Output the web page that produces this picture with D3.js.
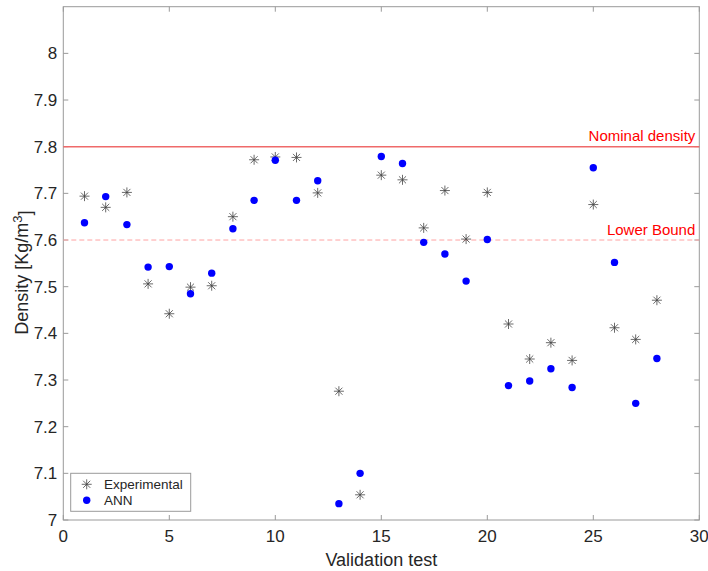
<!DOCTYPE html>
<meta charset="utf-8">
<script src="https://d3js.org/d3.v7.min.js"></script>
<style>
  body { margin: 0; background: #fff; }
  text { font-family: 'Liberation Sans', Arial, sans-serif; fill: #262626; }
</style>
<div id="chart"></div>
<script>
// data
const tests = d3.range(1, 29);
const experimental = [7.694, 7.670, 7.702, 7.506, 7.442, 7.499, 7.502, 7.650, 7.772, 7.778,
                      7.777, 7.701, 7.276, 7.054, 7.739, 7.729, 7.626, 7.706, 7.602, 7.702,
                      7.420, 7.345, 7.380, 7.342, 7.676, 7.412, 7.387, 7.471];
const ann = [7.637, 7.693, 7.633, 7.542, 7.543, 7.485, 7.529, 7.624, 7.685, 7.771,
             7.685, 7.727, 7.035, 7.100, 7.779, 7.764, 7.595, 7.570, 7.512, 7.601,
             7.288, 7.298, 7.324, 7.284, 7.755, 7.552, 7.250, 7.346];
const xTicks = [0, 5, 10, 15, 20, 25, 30];
const yTicks = [7, 7.1, 7.2, 7.3, 7.4, 7.5, 7.6, 7.7, 7.8, 7.9, 8];
const refLines = [
  {value: 7.8, label: "Nominal density", dashed: false},
  {value: 7.6, label: "Lower Bound", dashed: true}
];
const seriesNames = ["Experimental", "ANN"];

const W = 708, H = 571;
const margin = {top: 6.7, right: 8.7, bottom: 51, left: 63.3};
const width = W - margin.left - margin.right,
      height = H - margin.top - margin.bottom;

const svg = d3.select("#chart").append("svg")
    .attr("width", W).attr("height", H)
  .append("g")
    .attr("transform", "translate(" + margin.left + "," + margin.top + ")");

const x = d3.scaleLinear().domain([0, 30]).range([0, width]);
const y = d3.scaleLinear().domain([7, 8.1]).range([height, 0]);

const axisColor = "#9a9a9a";

// box
svg.append("rect")
  .attr("width", width).attr("height", height)
  .attr("fill", "none").attr("stroke", axisColor).attr("stroke-width", 1);

// ticks (inside, all four sides)
const tl = 5;
const gx = svg.append("g");
xTicks.forEach(t => {
  gx.append("line").attr("x1", x(t)).attr("x2", x(t)).attr("y1", height).attr("y2", height - tl)
    .attr("stroke", axisColor);
  gx.append("line").attr("x1", x(t)).attr("x2", x(t)).attr("y1", 0).attr("y2", tl)
    .attr("stroke", axisColor);
  gx.append("text").attr("x", x(t)).attr("y", height + 22)
    .attr("text-anchor", "middle").style("font-size", "17px").text(t);
});
const gy = svg.append("g");
yTicks.forEach(t => {
  gy.append("line").attr("x1", 0).attr("x2", tl).attr("y1", y(t)).attr("y2", y(t))
    .attr("stroke", axisColor);
  gy.append("line").attr("x1", width).attr("x2", width - tl).attr("y1", y(t)).attr("y2", y(t))
    .attr("stroke", axisColor);
  gy.append("text").attr("x", -6).attr("y", y(t)).attr("dy", "0.36em")
    .attr("text-anchor", "end").style("font-size", "17px").text(d3.format("")(t));
});

// axis labels
svg.append("text")
  .attr("x", width / 2).attr("y", height + 46)
  .attr("text-anchor", "middle").style("font-size", "18px")
  .text("Validation test");

const yl = svg.append("text")
  .attr("transform", "translate(" + (-35) + "," + y(7.53) + ") rotate(-90)")
  .attr("text-anchor", "middle").style("font-size", "18px");
yl.append("tspan").text("Density [Kg/m");
yl.append("tspan").attr("dy", "-0.5em").style("font-size", "13px").text("3");
yl.append("tspan").attr("dy", "0.5em").text("]");

// reference lines
refLines.forEach(r => {
  svg.append("line")
    .attr("x1", 0).attr("x2", width)
    .attr("y1", y(r.value)).attr("y2", y(r.value))
    .attr("stroke", r.dashed ? "#ffa3a3" : "#ef6a6a")
    .attr("stroke-width", r.dashed ? 1 : 1.5)
    .attr("stroke-dasharray", r.dashed ? "5,3" : null);
  svg.append("text")
    .attr("x", width - 4).attr("y", y(r.value) - 5.5)
    .attr("text-anchor", "end").style("font-size", "15px").style("fill", "#ff0000")
    .text(r.label);
});

// star marker
function star(g, cx, cy, s) {
  const d = s * 0.7071;
  const p = "M" + (cx - s) + "," + cy + "H" + (cx + s) +
            "M" + cx + "," + (cy - s) + "V" + (cy + s) +
            "M" + (cx - d) + "," + (cy - d) + "L" + (cx + d) + "," + (cy + d) +
            "M" + (cx - d) + "," + (cy + d) + "L" + (cx + d) + "," + (cy - d);
  g.append("path").attr("d", p).attr("stroke", "#444").attr("stroke-width", 0.8).attr("fill", "none");
}

const gs = svg.append("g");
tests.forEach((t, i) => star(gs, x(t), y(experimental[i]), 5));

svg.append("g").selectAll("circle")
  .data(tests)
  .enter().append("circle")
    .attr("cx", d => x(d))
    .attr("cy", (d, i) => y(ann[i]))
    .attr("r", 3.7)
    .attr("fill", "#0000ff");

// legend
const lg = svg.append("g").attr("transform", "translate(" + (70.7 - margin.left) + "," + (473.3 - margin.top) + ")");
lg.append("rect").attr("width", 120).attr("height", 38)
  .attr("fill", "#fff").attr("stroke", axisColor);
const rowY = [11, 27];
star(lg, 16, rowY[0], 5);
lg.append("circle").attr("cx", 16).attr("cy", rowY[1]).attr("r", 3.7).attr("fill", "#0000ff");
seriesNames.forEach((n, i) => {
  lg.append("text").attr("x", 33.3).attr("y", rowY[i]).attr("dy", "0.36em")
    .style("font-size", "13.5px").text(n);
});
</script>
